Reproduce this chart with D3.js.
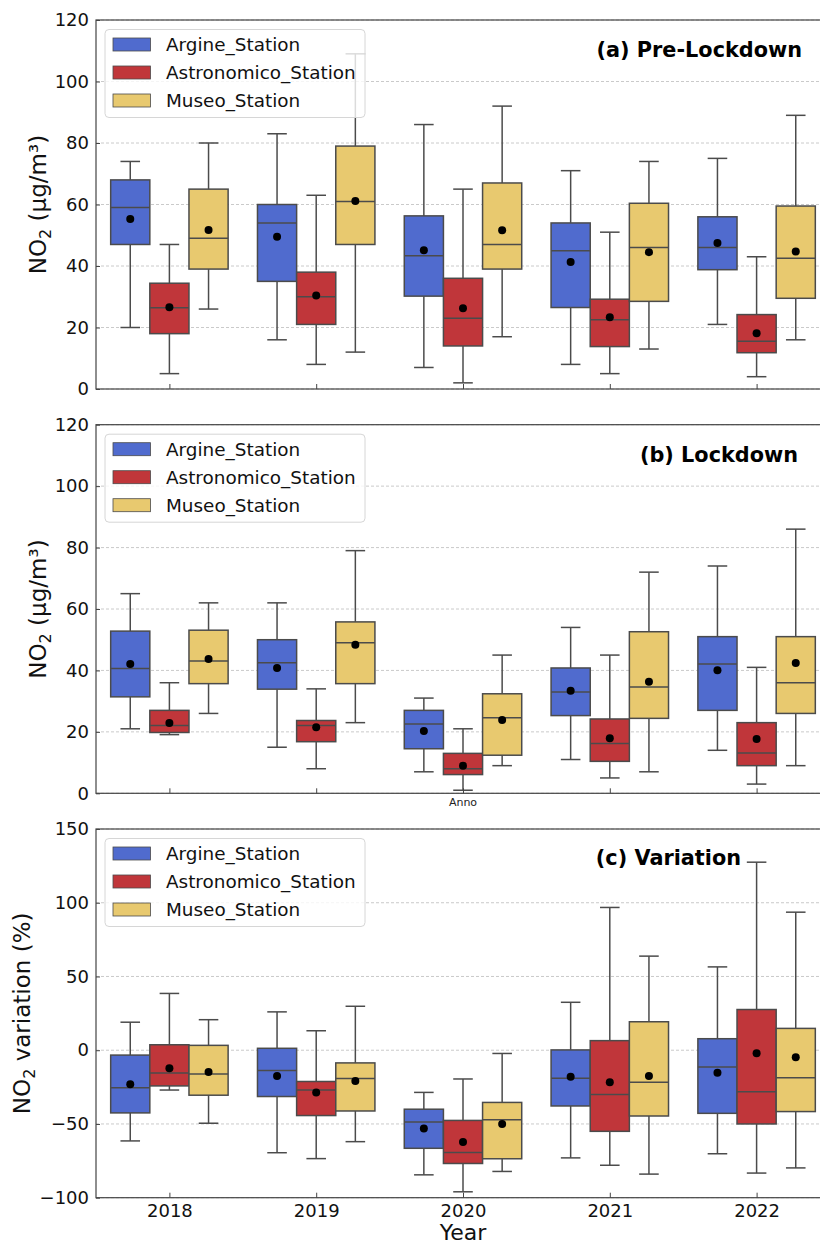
<!DOCTYPE html>
<html>
<head>
<meta charset="utf-8">
<script src="https://cdn.jsdelivr.net/npm/d3@7"></script>
<style>
  body { margin: 0; background: #fff; }
  text { font-family: "DejaVu Sans", sans-serif; }
</style>
</head>
<body>
<div id="chart"></div>
<script>
// categories
var years = ["2018", "2019", "2020", "2021", "2022"];
var stations = ["Argine_Station", "Astronomico_Station", "Museo_Station"];
var stationColors = ["#506bce", "#c0363a", "#e8c96f"];

// rows: [whisker low, Q1, median, Q3, whisker high, mean], year by year, station order as above
var preLockdown = [
  [20, 47, 59, 68, 74, 55.3], [5, 18, 26.4, 34.4, 47, 26.6], [26, 39, 49, 65, 80, 51.7],
  [16, 35, 54, 60, 83, 49.5], [8, 21, 30, 38, 63, 30.4], [12, 47, 61, 79, 109, 61.1],
  [7, 30.2, 43.3, 56.3, 86, 45.1], [2, 14, 23, 36, 65, 26.3], [17, 39, 47, 67, 92, 51.6],
  [8, 26.5, 45, 54, 71, 41.3], [5, 13.8, 22.5, 29.2, 51, 23.3], [13, 28.5, 46, 60.4, 74, 44.5],
  [21, 38.8, 46, 56, 75, 47.5], [4, 11.8, 15.5, 24.2, 43, 18.1], [16, 29.5, 42.5, 59.5, 89, 44.7]
];
var lockdown = [
  [21, 31.4, 40.6, 52.8, 65, 42.1], [19.1, 19.8, 22.1, 27, 36, 22.9], [26, 35.7, 43.1, 53.1, 62, 43.7],
  [15, 33.9, 42.5, 50, 62, 40.8], [8, 16.8, 22.1, 23.7, 34, 21.5], [23, 35.7, 49, 55.8, 79, 48.4],
  [7, 14.5, 22.6, 27, 31, 20.3], [1, 6.1, 8, 13, 21, 9], [9, 12.4, 24.6, 32.4, 45, 23.9],
  [11, 25.3, 33, 40.8, 54, 33.4], [5, 10.4, 16.2, 24.2, 45, 17.9], [7, 24.4, 34.6, 52.6, 72, 36.3],
  [14, 27, 42.1, 51, 74, 40.1], [3, 9, 13.1, 23, 41, 17.7], [9, 26, 36, 51, 86, 42.4]
];
var variation = [
  [-61.5, -42.5, -25.5, -3.3, 19, -23], [-27, -24.2, -15.5, 3.7, 38.5, -12.2], [-49.5, -30.5, -16.2, 3.3, 20.7, -14.7],
  [-69.5, -31.4, -13.8, 1.3, 26, -17.4], [-73.5, -44.3, -27, -21.2, 13.2, -28.7], [-62, -41.2, -19.2, -8.6, 29.8, -20.8],
  [-84.5, -66.5, -48.7, -40, -28.6, -53], [-96, -76.8, -69.3, -47.6, -19.5, -62.3], [-82.2, -73.6, -47.2, -35.4, -2.2, -50],
  [-73, -37.8, -19, 0.2, 32.5, -18], [-78, -55, -30, 6.5, 96.8, -21.7], [-84, -44.6, -21.7, 19.3, 63.8, -17.4],
  [-70.2, -42.8, -11.3, 7.8, 56.5, -15.3], [-83.3, -50, -28.2, 27.6, 127.5, -2], [-79.8, -41.6, -18.7, 14.8, 93.6, -4.7]
];

var concTicks = [0, 20, 40, 60, 80, 100, 120];
var varTicks = [-100, -50, 0, 50, 100, 150];

var width = 820, height = 1243;
var svg = d3.select("#chart").append("svg")
  .attr("width", width).attr("height", height);

var edge = "#4b4b4b";

// x is shared: categories at 0..4, limits -0.5..4.5 (right side runs past the picture edge)
var x = d3.scaleLinear().domain([-0.5, 4.5]).range([96, 830]);
var boxW = 0.8 / 3;

var panels = [
  { data: preLockdown, top: 20, bottom: 389, domain: [0, 120], ticks: concTicks,
    title: "(a) Pre-Lockdown", titleX: 802, titleY: 57, ylabel: "conc", xlabel: null },
  { data: lockdown, top: 424.7, bottom: 793.3, domain: [0, 120], ticks: concTicks,
    title: "(b) Lockdown", titleX: 798, titleY: 461.5, ylabel: "conc", xlabel: "Anno" },
  { data: variation, top: 829, bottom: 1197.7, domain: [-100, 150], ticks: varTicks,
    title: "(c) Variation", titleX: 741, titleY: 865, ylabel: "var", xlabel: "Year" }
];

panels.forEach(function(p) {
  var y = d3.scaleLinear().domain(p.domain).range([p.bottom, p.top]);
  var g = svg.append("g");

  // grid
  g.selectAll(".grid").data(p.ticks).enter().append("line")
    .attr("x1", x(-0.5)).attr("x2", x(4.5))
    .attr("y1", function(d) { return y(d); }).attr("y2", function(d) { return y(d); })
    .attr("stroke", "#bdbdbd").attr("stroke-width", 0.8)
    .attr("stroke-dasharray", "3,2");

  // boxes
  var rows = p.data.map(function(r, i) {
    var yi = Math.floor(i / 3), si = i % 3;
    return { cx: yi + (si - 1) * boxW, s: si, low: r[0], q1: r[1], med: r[2], q3: r[3], high: r[4], mean: r[5] };
  });

  var b = g.selectAll(".box").data(rows).enter().append("g");
  var capHalf = boxW / 4;
  // whiskers
  b.append("line")
    .attr("x1", function(d) { return x(d.cx); }).attr("x2", function(d) { return x(d.cx); })
    .attr("y1", function(d) { return y(d.q3); }).attr("y2", function(d) { return y(d.high); })
    .attr("stroke", edge).attr("stroke-width", 1.5);
  b.append("line")
    .attr("x1", function(d) { return x(d.cx); }).attr("x2", function(d) { return x(d.cx); })
    .attr("y1", function(d) { return y(d.q1); }).attr("y2", function(d) { return y(d.low); })
    .attr("stroke", edge).attr("stroke-width", 1.5);
  // caps
  ["high", "low"].forEach(function(k) {
    b.append("line")
      .attr("x1", function(d) { return x(d.cx - capHalf); }).attr("x2", function(d) { return x(d.cx + capHalf); })
      .attr("y1", function(d) { return y(d[k]); }).attr("y2", function(d) { return y(d[k]); })
      .attr("stroke", edge).attr("stroke-width", 1.5);
  });
  b.append("rect")
    .attr("x", function(d) { return x(d.cx - boxW / 2); })
    .attr("width", x(boxW) - x(0))
    .attr("y", function(d) { return y(d.q3); })
    .attr("height", function(d) { return y(d.q1) - y(d.q3); })
    .attr("fill", function(d) { return stationColors[d.s]; })
    .attr("stroke", edge).attr("stroke-width", 1.5);
  b.append("line")
    .attr("x1", function(d) { return x(d.cx - boxW / 2); }).attr("x2", function(d) { return x(d.cx + boxW / 2); })
    .attr("y1", function(d) { return y(d.med); }).attr("y2", function(d) { return y(d.med); })
    .attr("stroke", edge).attr("stroke-width", 1.5);
  b.append("circle")
    .attr("cx", function(d) { return x(d.cx); })
    .attr("cy", function(d) { return y(d.mean); })
    .attr("r", 4).attr("fill", "#000");

  // spines
  g.append("rect")
    .attr("x", x(-0.5)).attr("y", p.top)
    .attr("width", x(4.5) - x(-0.5)).attr("height", p.bottom - p.top)
    .attr("fill", "none").attr("stroke", "#444").attr("stroke-width", 1.2);

  // y axis, ticks pointing inward
  var yAxis = g.append("g").attr("transform", "translate(" + x(-0.5) + ",0)")
    .call(d3.axisLeft(y).tickValues(p.ticks).tickSizeInner(-4).tickSizeOuter(0).tickPadding(7)
      .tickFormat(function(d) { return d < 0 ? "\u2212" + Math.abs(d) : d; }));
  yAxis.select(".domain").remove();
  yAxis.selectAll("line").attr("stroke", "#444");
  yAxis.selectAll("text").attr("font-size", 18).attr("fill", "#111")
    .attr("font-family", "DejaVu Sans");

  // x axis
  var xAxis = g.append("g").attr("transform", "translate(0," + p.bottom + ")")
    .call(d3.axisBottom(x).tickValues([0, 1, 2, 3, 4]).tickSizeInner(-5).tickSizeOuter(0).tickPadding(7)
      .tickFormat(function(d) { return p.xlabel === "Year" ? years[d] : ""; }));
  xAxis.select(".domain").remove();
  xAxis.selectAll("line").attr("stroke", "#444");
  xAxis.selectAll("text").attr("font-size", 18).attr("fill", "#111")
    .attr("font-family", "DejaVu Sans");

  // title
  g.append("text")
    .attr("x", p.titleX).attr("y", p.titleY)
    .attr("text-anchor", "end").attr("font-size", 20.8).attr("font-weight", "bold")
    .text(p.title);

  // y label
  var mid = (p.top + p.bottom) / 2;
  var lx = p.ylabel === "conc" ? 46 : 30;
  var yl = g.append("text")
    .attr("transform", "translate(" + lx + "," + mid + ") rotate(-90)")
    .attr("text-anchor", "middle").attr("font-size", 23).attr("fill", "#111");
  yl.append("tspan").text("NO");
  yl.append("tspan").attr("font-size", 16).attr("dy", 5).text("2");
  yl.append("tspan").attr("dy", -5).text(p.ylabel === "conc" ? " (\u00b5g/m\u00b3)" : " variation (%)");

  if (p.xlabel === "Anno") {
    g.append("text").attr("x", x(2)).attr("y", p.bottom + 13)
      .attr("text-anchor", "middle").attr("font-size", 11).attr("fill", "#222")
      .text("Anno");
  } else if (p.xlabel === "Year") {
    g.append("text").attr("x", x(2)).attr("y", 1239.5)
      .attr("text-anchor", "middle").attr("font-size", 22).attr("fill", "#111")
      .text("Year");
  }

  // legend
  var lg = g.append("g").attr("transform", "translate(105," + (p.top + 9.5) + ")");
  lg.append("rect").attr("width", 260).attr("height", 88).attr("rx", 4)
    .attr("fill", "#fff").attr("fill-opacity", 0.8)
    .attr("stroke", "#d6d6d6").attr("stroke-width", 1);
  var items = lg.selectAll(".item").data(stations).enter().append("g")
    .attr("transform", function(d, i) { return "translate(0," + (15 + i * 28) + ")"; });
  items.append("rect").attr("x", 8).attr("y", -6.5).attr("width", 37.5).attr("height", 13)
    .attr("fill", function(d, i) { return stationColors[i]; })
    .attr("stroke", edge).attr("stroke-width", 0.8);
  items.append("text").attr("x", 61).attr("y", 6.5)
    .attr("font-size", 18.4).attr("fill", "#111")
    .text(function(d) { return d; });
});
</script>
</body>
</html>
